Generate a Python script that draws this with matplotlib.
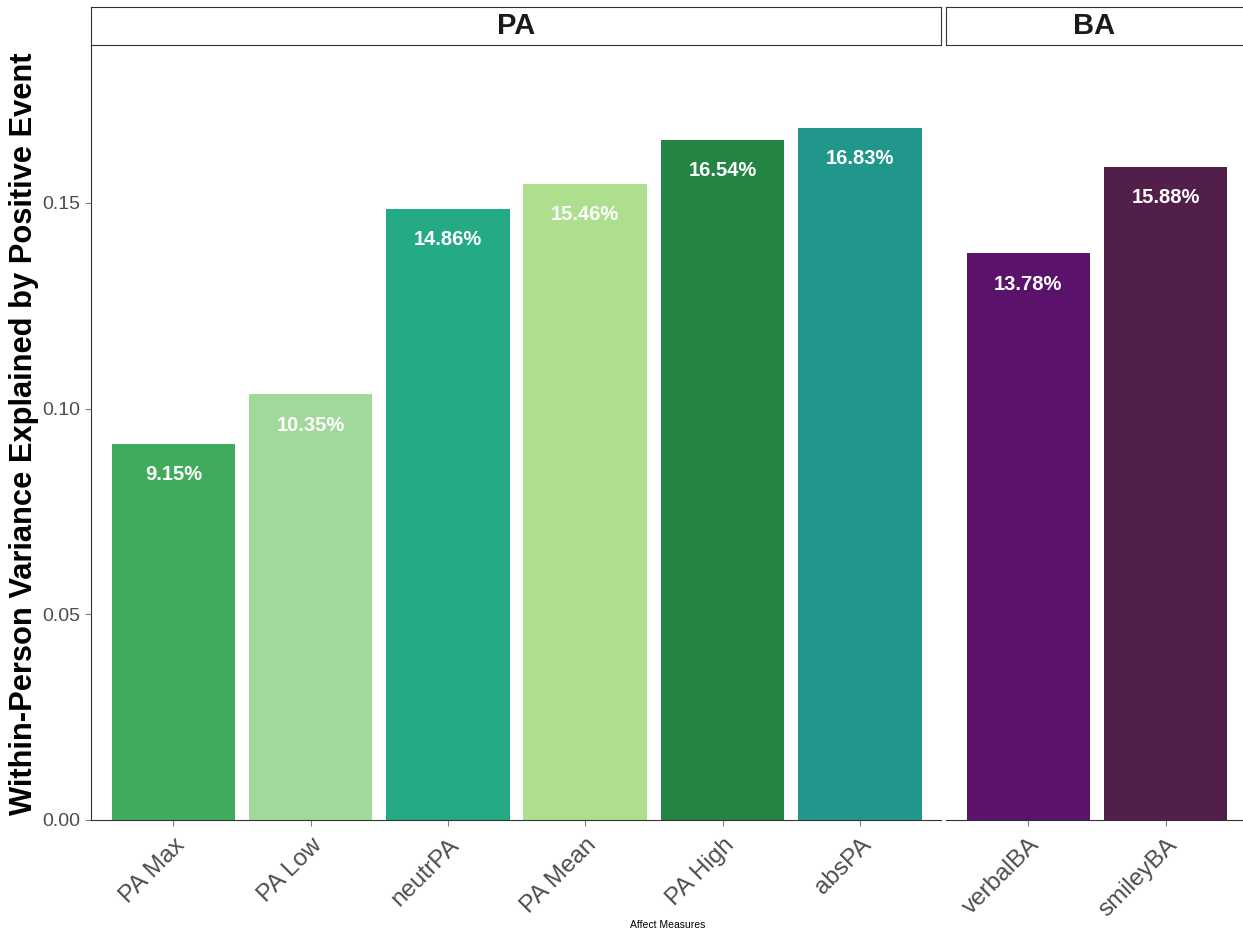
import matplotlib
matplotlib.use('Agg')
import matplotlib.pyplot as plt
import numpy as np

plt.rcParams['font.family'] = ['Liberation Sans', 'DejaVu Sans']

# data
pa_labels = ["PA Max", "PA Low", "neutrPA", "PA Mean", "PA High", "absPA"]
pa_values = [0.0915, 0.1035, 0.1486, 0.1546, 0.1654, 0.1683]
pa_colors = ["#41AB5D", "#A1D99B", "#24AA84", "#ADDF8E", "#238443", "#21968B"]
ba_labels = ["verbalBA", "smileyBA"]
ba_values = [0.1378, 0.1588]
ba_colors = ["#5B126B", "#521F4A"]
facets = ["PA", "BA"]

W, H = 1243, 934
fig = plt.figure(figsize=(W / 100, H / 100), dpi=100)

def fx(px): return px / W
def fy(py): return 1 - py / H

top, bottom = 45, 820
ymax = 0.1884
step = 137.3

def panel(x0, x1, labels, values, colors, show_y):
    ax = fig.add_axes([fx(x0), fy(bottom), fx(x1 - x0), (bottom - top) / H])
    x = np.arange(1, len(labels) + 1)
    ax.bar(x, values, width=0.9, color=colors)
    for xi, v in zip(x, values):
        ax.text(xi, v - 0.0052, f"{v*100:.2f}%", ha="center", va="top",
                color="white", fontsize=14.5, fontweight="bold")
    ax.set_xlim(0.4, 0.4 + (x1 - x0) / step)
    ax.set_ylim(0, ymax)
    ax.set_xticks(x)
    ax.set_xticklabels(labels, rotation=45, ha="right", rotation_mode="anchor",
                       fontsize=17.5, color="#4D4D4D")
    for s in ["top", "right"]:
        ax.spines[s].set_visible(False)
    ax.spines["bottom"].set_color("#333333")
    ax.spines["left"].set_color("#333333")
    ax.tick_params(axis="x", length=4, color="#7F7F7F", pad=6)
    if show_y:
        ax.set_yticks([0, 0.05, 0.10, 0.15])
        ax.set_yticklabels(["0.00", "0.05", "0.10", "0.15"], fontsize=14, color="#4D4D4D")
        ax.tick_params(axis="y", length=4, color="#7F7F7F")
    else:
        ax.spines["left"].set_visible(False)
        ax.set_yticks([])
    return ax

ax1 = panel(91, 941, pa_labels, pa_values, pa_colors, True)
ax2 = panel(946, 1243, ba_labels, ba_values, ba_colors, False)

# facet strips
for (x0, x1), name in zip([(91, 941), (946, 1246)], facets):
    sax = fig.add_axes([fx(x0), fy(45), fx(x1 - x0), 38 / H])
    sax.set_xticks([]); sax.set_yticks([])
    for s in sax.spines.values():
        s.set_color("#333333")
    cx = (min(x1, W) - x0) / 2 / (x1 - x0)
    sax.text(cx, 0.5, name, transform=sax.transAxes,
             ha="center", va="center", fontsize=21, fontweight="bold", color="#1A1A1A")

fig.text(fx(24), fy(434), "Within-Person Variance Explained by Positive Event",
         rotation=90, ha="center", va="center", fontsize=22.2, fontweight="bold")
fig.text(fx(668), fy(925), "Affect Measures", ha="center", va="center", fontsize=7.5)

plt.savefig("out.png", dpi=100)
